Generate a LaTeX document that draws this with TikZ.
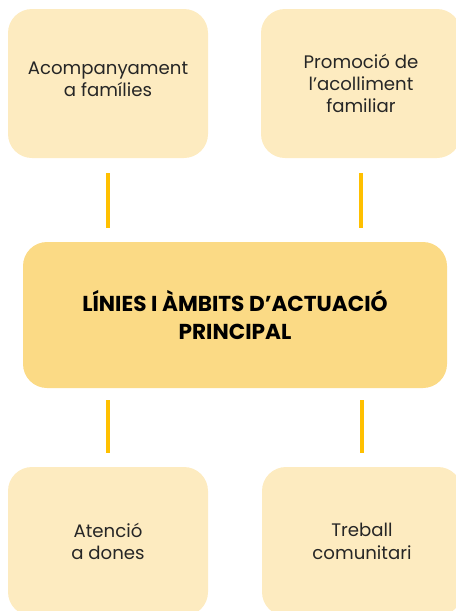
\documentclass[tikz,border=0pt]{standalone}
\usepackage{fontspec}
\setmainfont{Poppins}
\definecolor{boxlight}{HTML}{FDEBC0}
\definecolor{boxmain}{HTML}{FBDA85}
\definecolor{linkcol}{HTML}{FFC000}
\definecolor{txt}{HTML}{262626}
\begin{document}
\begin{tikzpicture}[x=0.75pt,y=-0.75pt,
  sidebox/.style={fill=boxlight,draw=none,rounded corners=18pt,minimum width=150pt,minimum height=111.75pt,
    align=center,font=\fontsize{13.6}{16.8}\selectfont,text=txt,inner sep=0pt},
  mainbox/.style={fill=boxmain,draw=none,rounded corners=18pt,minimum width=318pt,minimum height=109.5pt,
    align=center,font=\bfseries\fontsize{16.2}{21}\selectfont,text=black,inner sep=0pt},
  link/.style={draw=linkcol,line width=3pt},
  label/.style={align=center,inner sep=0pt,text=txt,font=\fontsize{13.6}{16.8}\selectfont}]
\useasboundingbox (0,0) rectangle (456,611);
\clip (0,0) rectangle (456,611);
\node[sidebox] (tl) at (108,83.5) {};
\node[label] (tlt) at (108,79) {Acompanyament\\a famílies};
\node[sidebox] (tr) at (361,83.5) {Promoció de\\l’acolliment\\familiar};
\node[mainbox] (c) at (235,315) {LÍNIES I ÀMBITS D’ACTUACIÓ\\PRINCIPAL};
\node[sidebox] (bl) at (108,541.5) {Atenció\\a dones};
\node[sidebox] (br) at (362,541.5) {Treball\\comunitari};
\draw[link,shorten <=11.25pt,shorten >=10.5pt] (tl.south) -- (tl.south |- c.north);
\draw[link,shorten <=11.25pt,shorten >=10.5pt] (tr.south) -- (tr.south |- c.north);
\draw[link,shorten <=9pt,shorten >=10.5pt] (c.south -| bl.north) -- (bl.north);
\draw[link,shorten <=9pt,shorten >=10.5pt] (c.south -| br.north) -- (br.north);
\end{tikzpicture}
\end{document}
